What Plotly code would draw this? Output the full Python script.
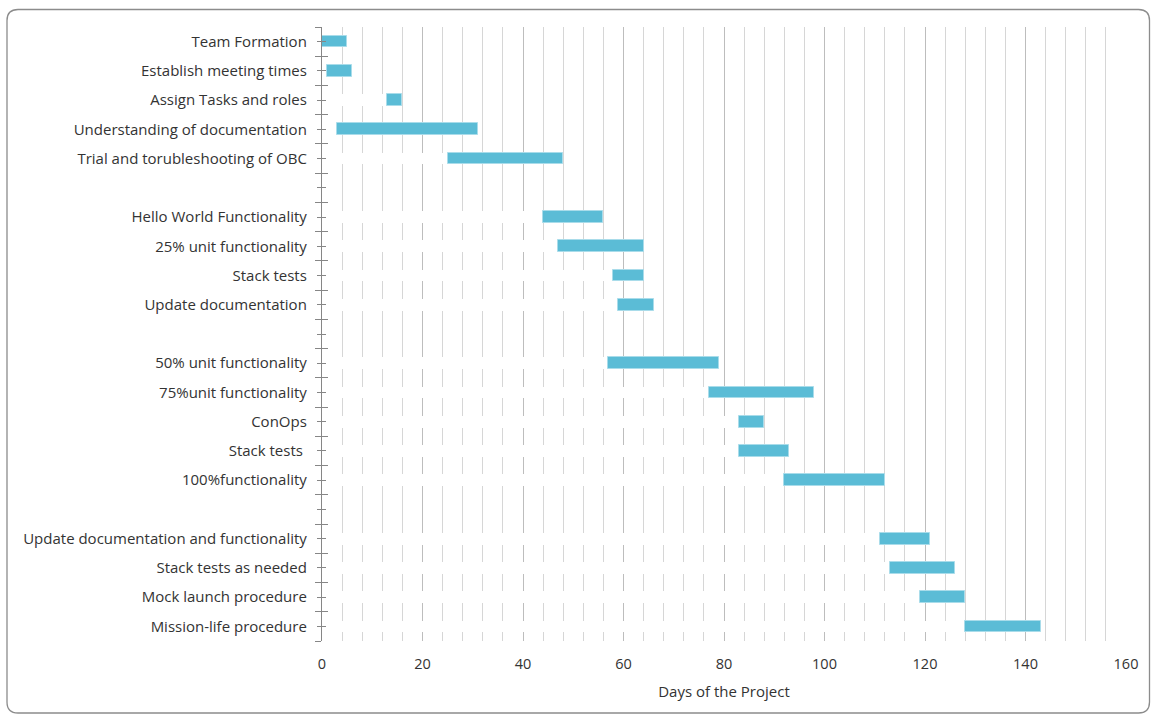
import plotly.graph_objects as go

# Project schedule: task names (blank entries are spacer rows between phases)
tasks = [
    "Team Formation", "Establish meeting times", "Assign Tasks and roles",
    "Understanding of documentation", "Trial and torubleshooting of OBC", "",
    "Hello World Functionality", "25% unit functionality", "Stack tests",
    "Update documentation", "",
    "50% unit functionality", "75%unit functionality", "ConOps", "Stack tests ",
    "100%functionality", "",
    "Update documentation and functionality", "Stack tests as needed",
    "Mock launch procedure", "Mission-life procedure",
]
start_day = [0, 1, 13, 3, 25, None, 44, 47, 58, 59, None,
             57, 77, 83, 83, 92, None, 111, 113, 119, 128]
end_day = [5, 6, 16, 31, 48, None, 56, 64, 64, 66, None,
           79, 98, 88, 93, 112, None, 121, 126, 128, 143]
x_ticks = [0, 20, 40, 60, 80, 100, 120, 140, 160]

rows = list(range(len(tasks)))
duration = [None if s is None else e - s for s, e in zip(start_day, end_day)]
boundaries = [r - 0.5 for r in range(len(tasks) + 1)]

AXIS_GRAY = "#868686"
TEXT = "#333333"
FONT = "Open Sans"

fig = go.Figure()

# Hidden "start" segment, filled white so it masks the gridlines
fig.add_trace(go.Bar(
    y=rows, x=start_day, orientation="h", width=0.4,
    marker=dict(color="white", line=dict(width=0)),
    hoverinfo="skip", showlegend=False,
))
# Task duration bars
fig.add_trace(go.Bar(
    y=rows, x=duration, base=start_day, orientation="h", width=0.4,
    marker=dict(color="#5bbcd6", line=dict(color="#a9dcea", width=1)),
    showlegend=False,
))
# Anchor trace for the overlay axis carrying the inner half of the ticks
fig.add_trace(go.Scatter(
    x=[0], y=[0], mode="markers", marker=dict(opacity=0),
    yaxis="y2", hoverinfo="skip", showlegend=False,
))

# Rounded chart frame, expressed in paper coordinates
W, H = 1151, 715
L, R, T, B = 322, 25, 27, 74
pw, ph = W - L - R, H - T - B


def px(x):
    return (x - L) / pw


def py(y):
    return (H - B - y) / ph


fx0, fx1, fy0, fy1, rad = 7, 1149.5, 9.5, 713, 11
frame = (
    f"M {px(fx0 + rad)} {py(fy0)} L {px(fx1 - rad)} {py(fy0)} "
    f"Q {px(fx1)} {py(fy0)} {px(fx1)} {py(fy0 + rad)} "
    f"L {px(fx1)} {py(fy1 - rad)} "
    f"Q {px(fx1)} {py(fy1)} {px(fx1 - rad)} {py(fy1)} "
    f"L {px(fx0 + rad)} {py(fy1)} "
    f"Q {px(fx0)} {py(fy1)} {px(fx0)} {py(fy1 - rad)} "
    f"L {px(fx0)} {py(fy0 + rad)} "
    f"Q {px(fx0)} {py(fy0)} {px(fx0 + rad)} {py(fy0)} Z"
)

fig.update_layout(
    width=W, height=H,
    margin=dict(l=L, r=R, t=T, b=B),
    paper_bgcolor="white", plot_bgcolor="white",
    barmode="overlay", bargap=0,
    font=dict(family=FONT, size=15, color=TEXT),
    xaxis=dict(
        range=[0, 160], tickmode="array", tickvals=x_ticks,
        showgrid=True, gridcolor="#bdbdbd", gridwidth=1,
        minor=dict(dtick=4, tick0=0, showgrid=True, gridcolor="#d6d6d6", gridwidth=1),
        zeroline=False, showline=False, ticks="",
        ticklabelstandoff=12,
        tickfont=dict(family=FONT, size=14.5, color=TEXT),
        title=dict(text="Days of the Project", standoff=14,
                   font=dict(family=FONT, size=15, color=TEXT)),
    ),
    yaxis=dict(
        range=[len(tasks) - 0.5, -0.5],
        tickmode="array", tickvals=rows, ticktext=tasks,
        ticks="outside", ticklen=4, tickwidth=1, tickcolor=AXIS_GRAY,
        minor=dict(tickmode="array", tickvals=boundaries, ticks="outside",
                   ticklen=6, tickwidth=1, tickcolor=AXIS_GRAY, showgrid=False),
        showline=True, linecolor=AXIS_GRAY, linewidth=1.3,
        showgrid=False, zeroline=False,
        ticklabelstandoff=7,
        tickfont=dict(family=FONT, size=15, color=TEXT),
    ),
    yaxis2=dict(
        overlaying="y", anchor="x", side="left",
        range=[len(tasks) - 0.5, -0.5],
        tickmode="array", tickvals=rows, showticklabels=False,
        ticks="inside", ticklen=4, tickwidth=1, tickcolor=AXIS_GRAY,
        minor=dict(tickmode="array", tickvals=boundaries, ticks="inside",
                   ticklen=6, tickwidth=1, tickcolor=AXIS_GRAY, showgrid=False),
        showline=False, showgrid=False, zeroline=False,
    ),
    shapes=[dict(type="path", xref="paper", yref="paper", path=frame,
                 line=dict(color="#8c8c8c", width=1.3), layer="above")],
)

fig.write_html("out.html")
